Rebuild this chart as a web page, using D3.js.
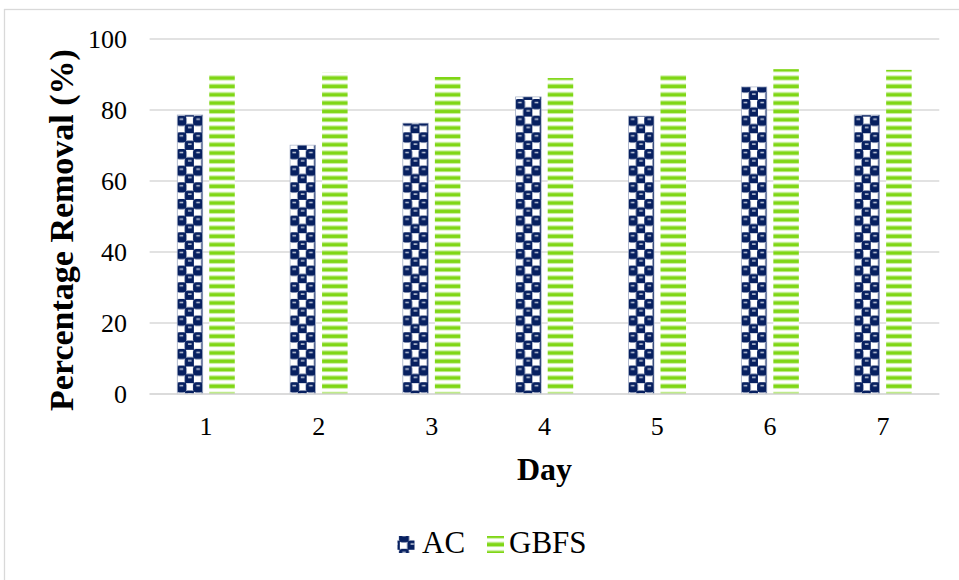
<!DOCTYPE html>
<html>
<head>
<meta charset="utf-8">
<script src="https://cdn.jsdelivr.net/npm/d3@7"></script>
<style>
  html, body { margin: 0; padding: 0; background: #fff; }
  svg { display: block; }
  text { font-family: "Liberation Serif", "Times New Roman", serif; fill: #000; }
</style>
</head>
<body>
<svg id="chart" width="959" height="580"></svg>
<script>
// Removal efficiency per day for the two adsorbents
const days = ["1", "2", "3", "4", "5", "6", "7"];
const seriesNames = ["AC", "GBFS"];
const acValues = [78.6, 70.1, 76.3, 83.7, 78.3, 86.5, 78.6];
const gbfsValues = [90.2, 90.7, 89.3, 89.0, 90.1, 91.5, 91.3];
const yTicks = [0, 20, 40, 60, 80, 100];

const svg = d3.select("#chart");

// Outer chart frame (open on right and bottom)
svg.append("rect")
  .attr("x", 4.5).attr("y", 9.5)
  .attr("width", 1200).attr("height", 1200)
  .attr("fill", "none").attr("stroke", "#d9d9d9").attr("stroke-width", 1.3);

const plot = { left: 149.6, right: 939.3, top: 39, bottom: 394 };

const x0 = d3.scaleBand().domain(days).range([plot.left, plot.right]).paddingInner(0.49).paddingOuter(0.245);
const x1 = d3.scaleBand().domain(seriesNames).range([0, x0.bandwidth()]).paddingInner(0.203);
const y = d3.scaleLinear().domain([0, 100]).range([plot.bottom, plot.top]);

// Fill patterns
const defs = svg.append("defs");
const cell = 8.33;
const checker = defs.append("pattern")
  .attr("id", "acPattern").attr("patternUnits", "userSpaceOnUse")
  .attr("width", cell * 2).attr("height", cell * 2);
checker.append("rect").attr("width", cell * 2).attr("height", cell * 2).attr("fill", "#ffffff");
[[0, 0], [cell, cell], [cell * 2, 0], [0, cell * 2], [cell * 2, cell * 2]].forEach(([cx, cy]) => {
  checker.append("rect").attr("x", cx - 0.9).attr("y", cy - 0.9)
    .attr("width", cell + 1.8).attr("height", cell + 1.8)
    .attr("rx", 3).attr("fill", "#072060");
});
[[0, 0], [cell, cell]].forEach(([cx, cy]) => {
  checker.append("rect").attr("x", cx + 2.4).attr("y", cy + 1.8)
    .attr("width", 3.6).attr("height", 1.5).attr("fill", "#c3cbdc");
});

const stripes = defs.append("pattern")
  .attr("id", "gbfsPattern").attr("patternUnits", "userSpaceOnUse")
  .attr("width", 20).attr("height", cell);
stripes.append("rect").attr("width", 20).attr("height", cell).attr("fill", "#ffffff");
stripes.append("rect").attr("y", 0.5).attr("width", 20).attr("height", 0.8).attr("fill", "#b8ea80");
stripes.append("rect").attr("y", 1.3).attr("width", 20).attr("height", 3.5).attr("fill", "#7fd615");
stripes.append("rect").attr("y", 4.8).attr("width", 20).attr("height", 0.8).attr("fill", "#b8ea80");

const fills = { AC: "url(#acPattern)", GBFS: "url(#gbfsPattern)" };

// Horizontal gridlines
svg.append("g").selectAll("line")
  .data(yTicks)
  .join("line")
  .attr("x1", plot.left).attr("x2", plot.right)
  .attr("y1", d => y(d)).attr("y2", d => y(d))
  .attr("stroke", "#d9d9d9").attr("stroke-width", 1.3);

// Bars
const rows = days.map((d, i) => ({ day: d, AC: acValues[i], GBFS: gbfsValues[i] }));
const groups = svg.append("g").selectAll("g")
  .data(rows)
  .join("g")
  .attr("transform", d => `translate(${x0(d.day)},0)`);

groups.selectAll("rect")
  .data(d => seriesNames.map(s => ({ key: s, value: d[s] })))
  .join("rect")
  .attr("x", d => x1(d.key))
  .attr("y", d => y(d.value))
  .attr("width", x1.bandwidth())
  .attr("height", d => y(0) - y(d.value))
  .attr("fill", d => fills[d.key])
  .attr("stroke", d => d.key === "AC" ? "#a9b3c9" : "none")
  .attr("stroke-width", 0.7);

// Horizontal axis line
svg.append("line")
  .attr("x1", plot.left).attr("x2", plot.right)
  .attr("y1", y(0)).attr("y2", y(0))
  .attr("stroke", "#d9d9d9").attr("stroke-width", 1.3);

// Y axis tick labels
const yAxis = d3.axisLeft(y).tickValues(yTicks).tickSize(0).tickPadding(0);
const gy = svg.append("g").attr("transform", "translate(127,0)").call(yAxis);
gy.select(".domain").remove();
gy.selectAll("text")
  .attr("font-family", "Liberation Serif, Times New Roman, serif")
  .attr("font-size", 26).attr("fill", "#000").attr("dy", "0.33em");

// X axis tick labels
const xAxis = d3.axisBottom(x0).tickSize(0).tickPadding(0);
const gx = svg.append("g").attr("transform", "translate(0,435)").call(xAxis);
gx.select(".domain").remove();
gx.selectAll("text")
  .attr("font-family", "Liberation Serif, Times New Roman, serif")
  .attr("font-size", 26).attr("fill", "#000").attr("dy", 0).attr("y", 0);

// Axis titles
svg.append("text")
  .attr("x", (plot.left + plot.right) / 2).attr("y", 480)
  .attr("text-anchor", "middle")
  .attr("font-size", 32).attr("font-weight", "bold")
  .text("Day");

svg.append("text")
  .attr("transform", "translate(73,230) rotate(-90)")
  .attr("text-anchor", "middle")
  .attr("font-size", 34).attr("font-weight", "bold")
  .text("Percentage Removal (%)");

// Legend
const legend = svg.append("g");
const legendItems = [
  { key: "AC", sx: 397.5, tx: 422 },
  { key: "GBFS", sx: 487, tx: 509 }
];
legendItems.forEach(it => {
  legend.append("rect")
    .attr("x", it.sx).attr("y", 536)
    .attr("width", 17).attr("height", 17)
    .attr("fill", fills[it.key]);
  legend.append("text")
    .attr("x", it.tx).attr("y", 553)
    .attr("font-size", 31)
    .text(it.key);
});
</script>
</body>
</html>
